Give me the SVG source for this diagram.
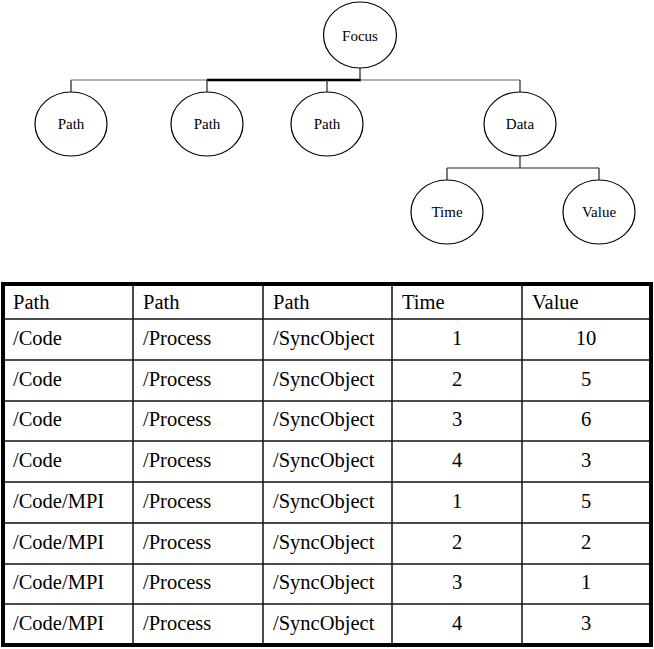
<svg xmlns="http://www.w3.org/2000/svg" width="654" height="649" viewBox="0 0 654 649">
  <style>
    .node ellipse { fill: #fff; stroke: #000; stroke-width: 1.2; }
    .node text { font-size: 15px; fill: #000; text-anchor: middle; }
    .edge { stroke: #222; stroke-width: 1.2; fill: none; }
    .edge-grey { stroke: #666; stroke-width: 1.2; fill: none; }
    .edge-bold { stroke: #000; stroke-width: 2.4; fill: none; }
    .grid { stroke: #111; stroke-width: 1.5; fill: none; }
    .frame { stroke: #000; stroke-width: 4; fill: none; }
    .cell { font-size: 20.5px; fill: #000; }
    .num { text-anchor: middle; }
  </style>
  <rect width="654" height="649" fill="#fff"/>

  <!-- tree connectors -->
  <g id="connectors">
    <line class="edge" x1="360" y1="68" x2="360" y2="80"/>
    <line class="edge-grey" x1="71" y1="80" x2="207" y2="80"/>
    <line class="edge-bold" x1="207" y1="80" x2="361" y2="80"/>
    <line class="edge-grey" x1="360" y1="80" x2="520" y2="80"/>
    <line class="edge" x1="71" y1="80" x2="71" y2="92"/>
    <line class="edge" x1="207" y1="80" x2="207" y2="92"/>
    <line class="edge" x1="327" y1="80" x2="327" y2="92"/>
    <line class="edge" x1="520" y1="80" x2="520" y2="92"/>
    <line class="edge" x1="520" y1="156" x2="520" y2="168"/>
    <line class="edge" x1="447" y1="168" x2="599" y2="168"/>
    <line class="edge" x1="447" y1="168" x2="447" y2="180"/>
    <line class="edge" x1="599" y1="168" x2="599" y2="180"/>
  </g>

  <!-- tree nodes -->
  <g font-family="'Liberation Serif', 'DejaVu Serif', serif">
    <g id="focus" class="node"><ellipse cx="360" cy="35" rx="36.5" ry="33"/><text x="360" y="41">Focus</text></g>
    <g id="path1" class="node"><ellipse cx="71" cy="124" rx="36" ry="32"/><text x="71" y="129">Path</text></g>
    <g id="path2" class="node"><ellipse cx="207" cy="124" rx="36" ry="32"/><text x="207" y="129">Path</text></g>
    <g id="path3" class="node"><ellipse cx="327" cy="124" rx="36" ry="32"/><text x="327" y="129">Path</text></g>
    <g id="data" class="node"><ellipse cx="520" cy="124" rx="36" ry="32"/><text x="520" y="129">Data</text></g>
    <g id="time" class="node"><ellipse cx="447" cy="212" rx="36" ry="32"/><text x="447" y="217">Time</text></g>
    <g id="value" class="node"><ellipse cx="599" cy="212" rx="36" ry="32"/><text x="599" y="217">Value</text></g>
  </g>

  <!-- table -->
  <g id="table">
    <g class="grid">
      <line x1="133" y1="284" x2="133" y2="645"/>
      <line x1="263" y1="284" x2="263" y2="645"/>
      <line x1="392" y1="284" x2="392" y2="645"/>
      <line x1="522" y1="284" x2="522" y2="645"/>
      <line x1="3" y1="319" x2="651" y2="319"/>
      <line x1="3" y1="360" x2="651" y2="360"/>
      <line x1="3" y1="401" x2="651" y2="401"/>
      <line x1="3" y1="441" x2="651" y2="441"/>
      <line x1="3" y1="482" x2="651" y2="482"/>
      <line x1="3" y1="523" x2="651" y2="523"/>
      <line x1="3" y1="564" x2="651" y2="564"/>
      <line x1="3" y1="604" x2="651" y2="604"/>
    </g>
    <rect class="frame" x="3" y="284" width="648" height="361"/>

    <g class="cell" font-family="'Liberation Serif', 'DejaVu Serif', serif">
      <text x="13" y="309">Path</text>
      <text x="143" y="309">Path</text>
      <text x="273" y="309">Path</text>
      <text x="402" y="309">Time</text>
      <text x="532" y="309">Value</text>

      <text x="13" y="345">/Code</text><text x="143" y="345">/Process</text><text x="273" y="345">/SyncObject</text>
      <text class="num" x="457" y="345">1</text><text class="num" x="586" y="345">10</text>

      <text x="13" y="386">/Code</text><text x="143" y="386">/Process</text><text x="273" y="386">/SyncObject</text>
      <text class="num" x="457" y="386">2</text><text class="num" x="586" y="386">5</text>

      <text x="13" y="426">/Code</text><text x="143" y="426">/Process</text><text x="273" y="426">/SyncObject</text>
      <text class="num" x="457" y="426">3</text><text class="num" x="586" y="426">6</text>

      <text x="13" y="467">/Code</text><text x="143" y="467">/Process</text><text x="273" y="467">/SyncObject</text>
      <text class="num" x="457" y="467">4</text><text class="num" x="586" y="467">3</text>

      <text x="13" y="508">/Code/MPI</text><text x="143" y="508">/Process</text><text x="273" y="508">/SyncObject</text>
      <text class="num" x="457" y="508">1</text><text class="num" x="586" y="508">5</text>

      <text x="13" y="549">/Code/MPI</text><text x="143" y="549">/Process</text><text x="273" y="549">/SyncObject</text>
      <text class="num" x="457" y="549">2</text><text class="num" x="586" y="549">2</text>

      <text x="13" y="589">/Code/MPI</text><text x="143" y="589">/Process</text><text x="273" y="589">/SyncObject</text>
      <text class="num" x="457" y="589">3</text><text class="num" x="586" y="589">1</text>

      <text x="13" y="630">/Code/MPI</text><text x="143" y="630">/Process</text><text x="273" y="630">/SyncObject</text>
      <text class="num" x="457" y="630">4</text><text class="num" x="586" y="630">3</text>
    </g>
  </g>
</svg>
